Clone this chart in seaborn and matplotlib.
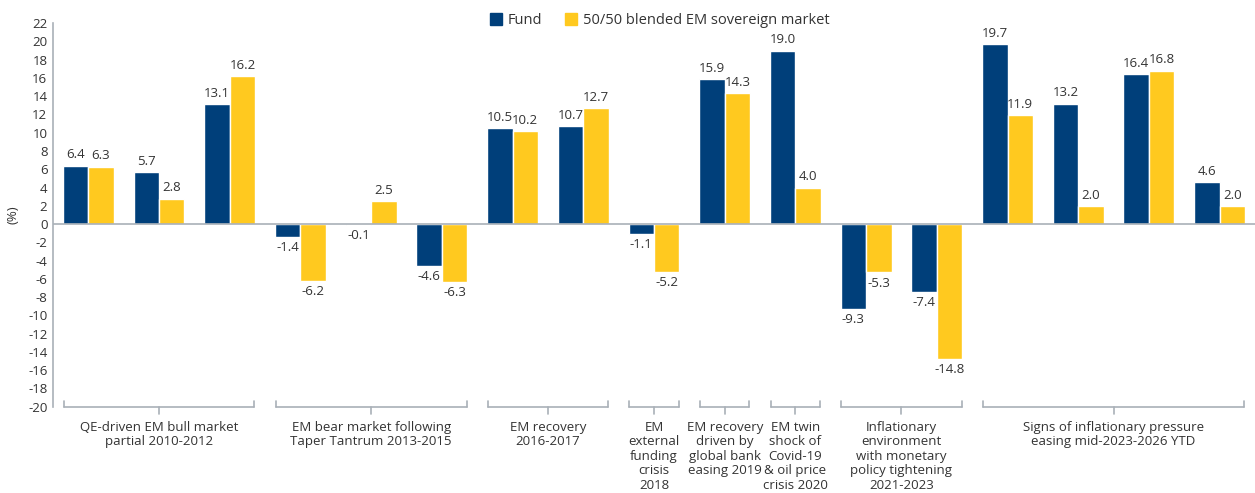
import matplotlib
matplotlib.use("Agg")
import matplotlib.pyplot as plt
import seaborn as sns
import pandas as pd
import numpy as np
from matplotlib.lines import Line2D

# ---------------- data ----------------
fund = [6.4, 5.7, 13.1, -1.4, -0.1, -4.6, 10.5, 10.7, -1.1, 15.9, 19.0, -9.3, -7.4, 19.7, 13.2, 16.4, 4.6]
market = [6.3, 2.8, 16.2, -6.2, 2.5, -6.3, 10.2, 12.7, -5.2, 14.3, 4.0, -5.3, -14.8, 11.9, 2.0, 16.8, 2.0]
series_names = ["Fund", "50/50 blended EM sovereign market"]
group_labels = [
    "QE-driven EM bull market\npartial 2010-2012",
    "EM bear market following\nTaper Tantrum 2013-2015",
    "EM recovery\n2016-2017",
    "EM\nexternal\nfunding\ncrisis\n2018",
    "EM recovery\ndriven by\nglobal bank\neasing 2019",
    "EM twin\nshock of\nCovid-19\n& oil price\ncrisis 2020",
    "Inflationary\nenvironment\nwith monetary\npolicy tightening\n2021-2023",
    "Signs of inflationary pressure\neasing mid-2023-2026 YTD",
]
group_sizes = [3, 3, 2, 1, 1, 1, 2, 4]
y_ticks = list(range(-20, 23, 2))

# ---------------- style ----------------
NAVY = "#003F7A"
YELLOW = "#FFC91F"
TXT = "#333333"
GRID = "#A9B0B8"

sns.set_theme(style="white")
plt.rcParams["font.family"] = ["Open Sans", "DejaVu Sans"]

n = len(fund)
slots = [f"s{i}" for i in range(n)]
df = pd.DataFrame({
    "slot": slots * 2,
    "value": fund + market,
    "series": [series_names[0]] * n + [series_names[1]] * n,
})

fig = plt.figure(figsize=(12.55, 4.93), dpi=100)
ax = fig.add_axes([0.0422, 0.175, 0.9578, 0.778])

sns.barplot(data=df, x="slot", y="value", hue="series", order=slots,
            hue_order=series_names, palette=[NAVY, YELLOW], width=0.72,
            gap=0, saturation=1, errorbar=None, legend=False, ax=ax)

ax.set_xlim(-0.5, n - 0.5)
ax.set_ylim(-20, 22)
ax.set_yticks(y_ticks)
ax.set_yticklabels([str(t) for t in y_ticks], fontsize=9.5, color=TXT)
ax.tick_params(axis="y", length=0, pad=4)
ax.set_xticks([])
ax.set_xlabel("")
ax.set_ylabel("(%)", fontsize=9.5, color=TXT, labelpad=6)

for s in ["top", "right", "bottom"]:
    ax.spines[s].set_visible(False)
ax.spines["left"].set_color(GRID)
ax.spines["left"].set_linewidth(1.2)
ax.axhline(0, color=GRID, lw=1.2, zorder=1)

# value labels
for cont in ax.containers:
    for bar in cont:
        h = bar.get_height()
        x = bar.get_x() + bar.get_width() / 2
        if h >= 0:
            ax.annotate(f"{h:.1f}", (x, h), xytext=(0, 3), textcoords="offset points",
                        ha="center", va="bottom", fontsize=9.5, color=TXT)
        else:
            ax.annotate(f"{h:.1f}", (x, h), xytext=(0, -3), textcoords="offset points",
                        ha="center", va="top", fontsize=9.5, color=TXT)

# group brackets
trans = ax.get_xaxis_transform()
ax_h_px = 0.778 * 493
up = 6 / ax_h_px
down = 7 / ax_h_px
start = 0
for size, lab in zip(group_sizes, group_labels):
    x0 = start - 0.5 + 0.15
    x1 = start + size - 0.5 - 0.15
    xc = (x0 + x1) / 2
    kw = dict(color=GRID, lw=1.2, transform=trans, clip_on=False)
    ax.add_line(Line2D([x0, x1], [0, 0], **kw))
    ax.add_line(Line2D([x0, x0], [0, up], **kw))
    ax.add_line(Line2D([x1, x1], [0, up], **kw))
    ax.add_line(Line2D([xc, xc], [0, -down], **kw))
    ax.text(xc, -14 / ax_h_px, lab, transform=trans, ha="center", va="top",
            fontsize=9.5, color=TXT, linespacing=1.15)
    start += size

# legend
handles = [Line2D([], [], marker="s", ls="", color=c, markersize=8) for c in [NAVY, YELLOW]]
fig.legend(handles, series_names, loc="center", bbox_to_anchor=(0.525, 0.958),
           ncol=2, frameon=False, fontsize=10.5, handletextpad=0.3,
           columnspacing=1.5, labelcolor=TXT, handlelength=1.0)

fig.savefig("out.png", dpi=100)
